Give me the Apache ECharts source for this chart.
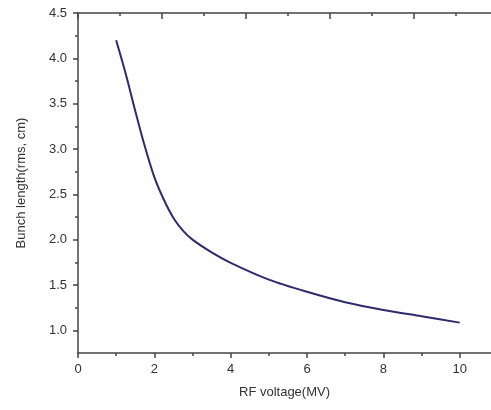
<!DOCTYPE html>
<html>
<head>
<meta charset="utf-8">
<script src="https://cdn.jsdelivr.net/npm/echarts@6/dist/echarts.min.js"></script>
<style>html,body{margin:0;padding:0;background:#fff}#c{width:491px;height:410px}</style>
</head>
<body>
<div id="c"></div>
<script>
var voltage = [1, 1.25, 1.5, 1.75, 2, 2.25, 2.5, 2.75, 3, 3.5, 4, 5, 6, 7, 8, 9, 10];
var bunchLength = [4.2, 3.83, 3.42, 3.03, 2.69, 2.44, 2.24, 2.10, 2.00, 1.86, 1.745, 1.56, 1.425, 1.31, 1.225, 1.155, 1.085];
var xTickLabels = [0, 2, 4, 6, 8, 10];
var xMinorTicks = [1, 3, 5, 7, 9];
var yTickLabels = [1.0, 1.5, 2.0, 2.5, 3.0, 3.5, 4.0, 4.5];
var yMinorTicks = [1.25, 1.75, 2.25, 2.75, 3.25, 3.75, 4.25];
var topMajorTicks = [0, 2.2, 4.4, 6.6, 8.8];
var topMinorTicks = [1.1, 3.3, 5.5, 7.7, 9.9];

var AX = '#444';
var FONT = 'Liberation Sans, Arial, sans-serif';
var chart = echarts.init(document.getElementById('c'));
var XMAX = 10.82, YMIN = 0.75, YMAX = 4.5;
function hiddenAxis(extra) {
  return Object.assign({
    type: 'value', min: 0, max: XMAX,
    axisLine: {show: false}, axisLabel: {show: false}, splitLine: {show: false}
  }, extra);
}
chart.setOption({
  animation: false,
  grid: {left: 78, top: 13, right: 0, bottom: 57},
  xAxis: [
    {
      type: 'value', position: 'bottom', min: 0, max: XMAX,
      name: 'RF voltage(MV)', nameLocation: 'middle', nameGap: 33,
      nameTextStyle: {color: '#333', fontSize: 13, fontFamily: FONT},
      axisLine: {show: true, lineStyle: {color: AX, width: 1.5}},
      axisTick: {show: true, length: 5, customValues: xTickLabels, lineStyle: {color: AX, width: 1.5}},
      axisLabel: {customValues: xTickLabels, color: '#333', fontSize: 13, fontFamily: FONT, margin: 10},
      splitLine: {show: false}
    },
    hiddenAxis({position: 'bottom',
      axisTick: {show: true, length: 3, customValues: xMinorTicks, lineStyle: {color: AX, width: 1.5}}}),
    {
      type: 'value', position: 'top', min: 0, max: XMAX,
      axisLine: {show: true, lineStyle: {color: AX, width: 1.5}},
      axisTick: {show: true, inside: true, length: 6, customValues: topMajorTicks, lineStyle: {color: AX, width: 1.5}},
      axisLabel: {show: false}, splitLine: {show: false}
    },
    hiddenAxis({position: 'top',
      axisTick: {show: true, inside: true, length: 3, customValues: topMinorTicks, lineStyle: {color: AX, width: 1.5}}})
  ],
  yAxis: [
    {
      type: 'value', position: 'left', min: YMIN, max: YMAX,
      name: 'Bunch length(rms, cm)', nameLocation: 'middle', nameGap: 50,
      nameTextStyle: {color: '#333', fontSize: 13, fontFamily: FONT},
      axisLine: {show: true, lineStyle: {color: AX, width: 1.5}},
      axisTick: {show: true, length: 5, customValues: yTickLabels, lineStyle: {color: AX, width: 1.5}},
      axisLabel: {customValues: yTickLabels, color: '#333', fontSize: 13, fontFamily: FONT, margin: 11,
        formatter: function (v) { return Number(v).toFixed(1); }},
      splitLine: {show: false}
    },
    {
      type: 'value', position: 'left', min: YMIN, max: YMAX,
      axisLine: {show: false}, axisLabel: {show: false}, splitLine: {show: false},
      axisTick: {show: true, length: 3, customValues: yMinorTicks, lineStyle: {color: AX, width: 1.5}}
    }
  ],
  series: [{
    type: 'line', xAxisIndex: 0, yAxisIndex: 0,
    data: voltage.map(function (v, i) { return [v, bunchLength[i]]; }),
    smooth: 0.3, showSymbol: false,
    lineStyle: {color: '#2d2b6b', width: 2}
  }]
});
</script>
</body>
</html>
